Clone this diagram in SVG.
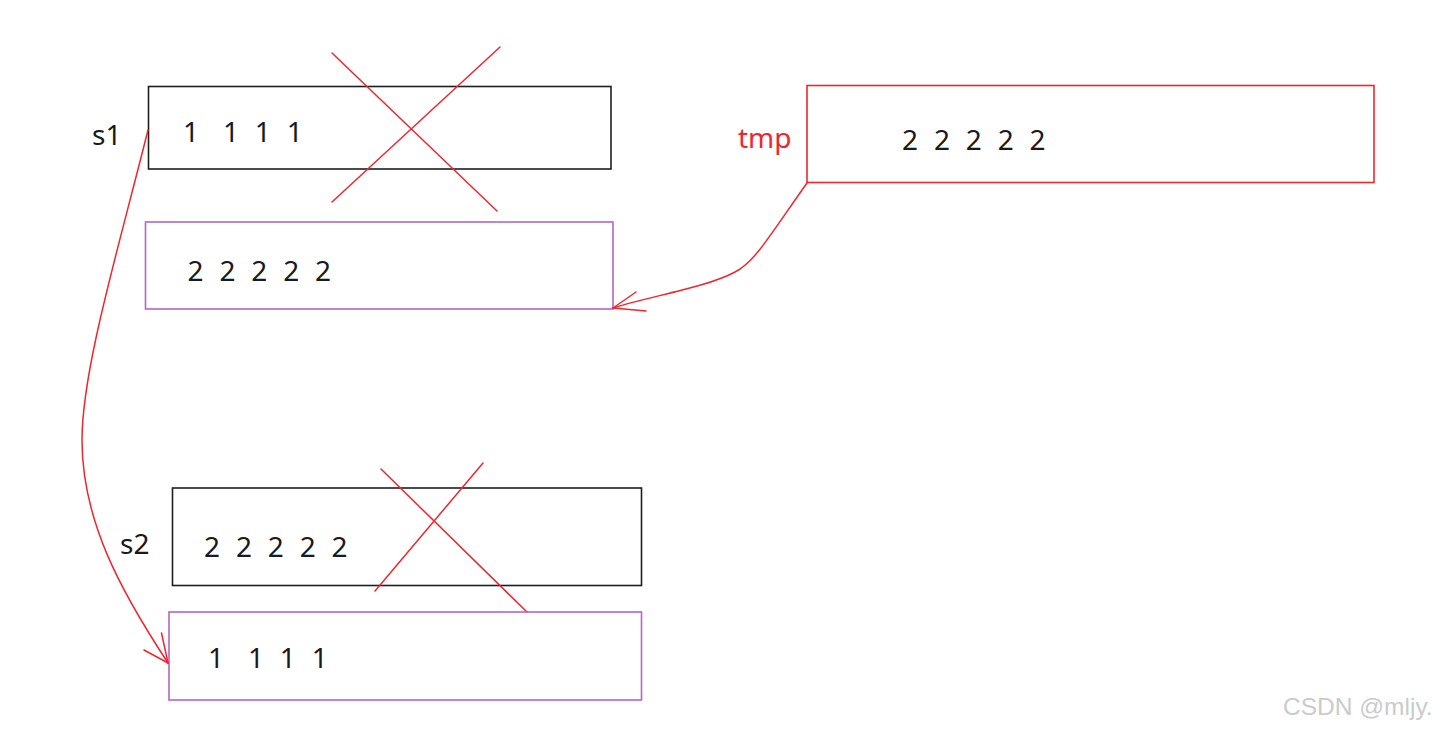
<svg xmlns="http://www.w3.org/2000/svg" width="1442" height="733" viewBox="0 0 1442 733">
<style>
.bg{fill:#ffffff}
.blk{fill:none;stroke:#1e1e1e;stroke-width:1.6}
.pur{fill:none;stroke:#b466c4;stroke-width:1.6}
.redbox{fill:none;stroke:#f0262e;stroke-width:1.6}
.red{fill:none;stroke:#f0262e;stroke-width:1.5;stroke-linecap:round}
.t{font-family:"Noto Sans","Open Sans",sans-serif;font-size:28px;fill:#1a1a1a}
.dig{letter-spacing:4.3px}
.lbl{font-family:"Noto Sans","Open Sans",sans-serif;font-size:28px;fill:#1a1a1a}
.rlbl{fill:#f0262e}
.wm{font-family:"Liberation Sans",Arial,sans-serif;font-size:24.5px;fill:#cbcbcb}
</style>
<rect class="bg" x="0" y="0" width="1442" height="733"/>

<g id="s1-box">
  <rect class="blk" x="148.5" y="86.5" width="462.5" height="82.5"/>
  <text class="t dig" x="183" y="142">1<tspan dx="8"> 1 1 1</tspan></text>
</g>
<g id="s1-label">
  <text class="lbl" x="92" y="145">s1</text>
</g>
<g id="s1-cross">
  <line class="red" x1="332" y1="53" x2="497" y2="211"/>
  <line class="red" x1="332" y1="202" x2="500" y2="47"/>
</g>
<g id="s1-new">
  <rect class="pur" x="145.5" y="222" width="467.5" height="87"/>
  <text class="t dig" x="187.5" y="281">2 2 2 2 2</text>
</g>

<g id="tmp-box">
  <rect class="redbox" x="807" y="85.5" width="567" height="97"/>
  <text class="t dig" x="902" y="150">2 2 2 2 2</text>
</g>
<g id="tmp-label">
  <text class="lbl rlbl" x="738" y="148">tmp</text>
</g>

<g id="s2-box">
  <rect class="blk" x="172.5" y="488" width="469" height="97.5"/>
  <text class="t dig" x="204" y="557">2 2 2 2 2</text>
</g>
<g id="s2-label">
  <text class="lbl" x="120" y="554">s2</text>
</g>
<g id="s2-cross">
  <line class="red" x1="381" y1="469" x2="527" y2="612"/>
  <line class="red" x1="483" y1="463" x2="375" y2="591"/>
</g>
<g id="s2-new">
  <rect class="pur" x="169" y="612" width="472.5" height="88"/>
  <text class="t dig" x="208" y="668">1<tspan dx="8"> 1 1 1</tspan></text>
</g>

<g id="connectors">
  <path class="red" d="M148,130 C118,250 82,370 82,440 C82,520 120,590 168,663"/>
  <line class="red" x1="168" y1="663" x2="161.5" y2="633"/>
  <line class="red" x1="168" y1="663" x2="144" y2="650"/>
  <path class="red" d="M807,183 C770,235 755,262 735,272 C705,288 650,296 613,308"/>
  <line class="red" x1="613" y1="308" x2="636" y2="292"/>
  <line class="red" x1="613" y1="308" x2="646" y2="311"/>
</g>

<text class="wm" x="1283" y="715">CSDN @mljy.</text>
</svg>
